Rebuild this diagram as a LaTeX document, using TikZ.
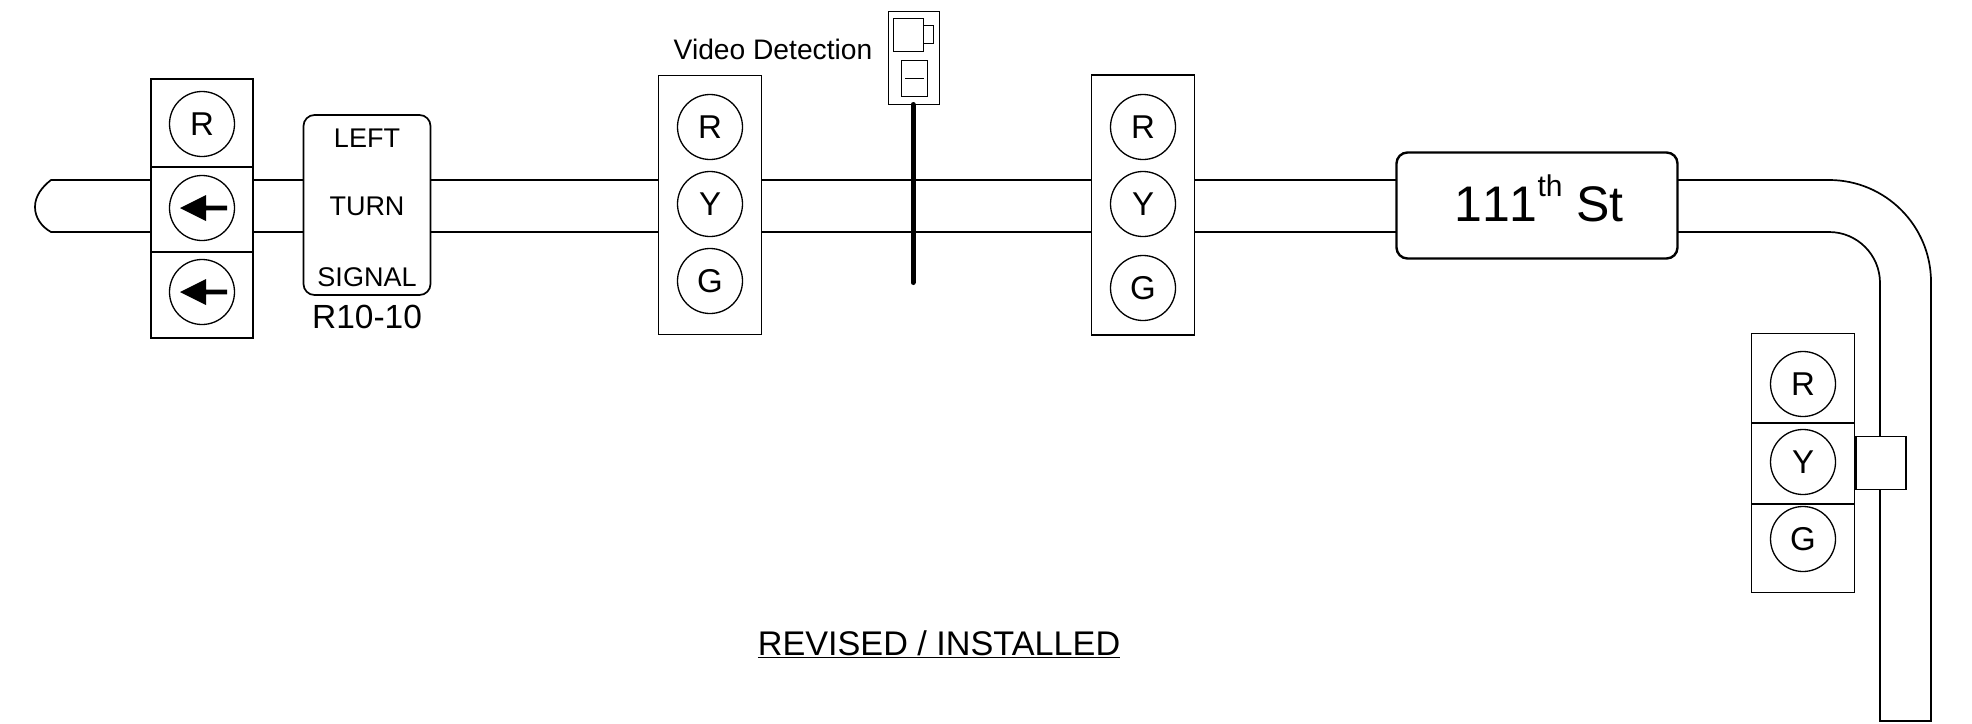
\documentclass[tikz,border=0pt]{standalone}
\usepackage{fontspec}
\setmainfont{Liberation Sans}
\newcommand{\pxfont}[1]{\fontsize{#1}{#1}\selectfont}
\tikzset{
  x=1pt,y=-1pt,
  ln/.style={line width=1.7pt,black},
  hd/.style={ln,draw,fill=white,rectangle,inner sep=0pt,outer sep=0pt},
  lamp/.style={line width=1.3pt,draw,fill=white,circle,inner sep=0pt,outer sep=0pt,minimum size=65pt,font=\pxfont{33}},
  sigbox/.style={hd,rounded corners=11pt},
  lbl/.style={inner sep=0pt,outer sep=0pt,anchor=base},
  fine/.style={line width=0.8pt,black},
}
\begin{document}
\begin{tikzpicture}
\useasboundingbox (0,0) rectangle (1972,723);
% mast arm
\coordinate (armEnd) at (35,207);
\coordinate (tA) at (51,180);
\coordinate (bA) at (51,232);
\coordinate (cT) at (1829,180);
\coordinate (cB) at (1829,232);
\coordinate (poleO) at (1931,721);
\coordinate (poleI) at (1880,721);
\node[hd,minimum width=102pt,minimum height=259pt] (headA) at (202,208.5) {};
\node[sigbox,minimum width=127pt,minimum height=180pt] (sign) at (367,205) {};
\node[hd,minimum width=103pt,minimum height=259pt] (headB) at (710,205) {};
\node[hd,minimum width=103pt,minimum height=260pt] (headC) at (1143,205) {};
\node[sigbox,line width=2.4pt,minimum width=281pt,minimum height=106pt] (street) at (1537,205.5) {};
\draw[ln] (headA.west |- tA) -- (tA) .. controls (42,187) and (35,196) .. (armEnd) .. controls (35,218) and (42,227) .. (bA) -- (headA.west |- bA);
\draw[ln] (headA.east |- tA) -- (sign.west |- tA);
\draw[ln] (headA.east |- bA) -- (sign.west |- bA);
\draw[ln] (sign.east |- tA) -- (headB.west |- tA);
\draw[ln] (sign.east |- bA) -- (headB.west |- bA);
\draw[ln] (headB.east |- tA) -- (headC.west |- tA);
\draw[ln] (headB.east |- bA) -- (headC.west |- bA);
\draw[ln] (headC.east |- tA) -- (street.west |- tA);
\draw[ln] (headC.east |- bA) -- (street.west |- bA);
\draw[ln] (street.east |- cT) -- (cT) arc[start angle=-90,end angle=0,radius=102] -- (poleO) -- (poleI) -- (1880,283) arc[start angle=0,end angle=-90,radius=51] -- (street.east |- cB);
% head A
\draw[ln] (headA.west |- 0,167) -- (headA.east |- 0,167);
\draw[ln] (headA.west |- 0,252) -- (headA.east |- 0,252);
\node[lamp] (a1) at (202,124) {R};
\node[lamp] (a2) at (202,208) {};
\node[lamp] (a3) at (202,292) {};
\foreach \c in {a2,a3}{
  \fill[black] ([xshift=-22pt]\c.center) -- ([xshift=4pt,yshift=-13pt]\c.center) -- ([xshift=4pt,yshift=-2.4pt]\c.center) -- ([xshift=25pt,yshift=-2.4pt]\c.center) -- ([xshift=25pt,yshift=2.4pt]\c.center) -- ([xshift=4pt,yshift=2.4pt]\c.center) -- ([xshift=4pt,yshift=13pt]\c.center) -- cycle;
}
% sign
\node[lbl,font=\pxfont{27}] (s1) at (367,147) {LEFT};
\node[lbl,font=\pxfont{27}] (s2) at (367,215) {TURN};
\node[lbl,font=\pxfont{27}] (s3) at (367,286) {SIGNAL};
\node[lbl,font=\pxfont{33.5}] (code) at (367,328) {R10-10};
% video detection
\node[lbl,font=\pxfont{28.2}] (vd) at (773,59) {Video Detection};
\node[fine,draw,fill=white,rectangle,inner sep=0pt,outer sep=0pt,minimum width=51pt,minimum height=93pt] (cam) at (914,58) {};
\draw[line width=5pt,line cap=round] ([xshift=-1pt]cam.south) -- ++(0,178) coordinate (poleEnd);
\draw[fine] (893,18) rectangle (923,51);
\draw[fine] (923,25) rectangle (933,43);
\draw[fine] (901,60) rectangle (927,96);
\draw[fine] (905,78) -- (924,78);
% head B
\node[lamp] (b1) at (710,127) {R};
\node[lamp] (b2) at (710,204) {Y};
\node[lamp] (b3) at (710,281) {G};
% head C
\node[lamp] (c1) at (1143,127) {R};
\node[lamp] (c2) at (1143,204) {Y};
\node[lamp] (c3) at (1143,288) {G};
% street sign
\node[inner sep=0pt,font=\pxfont{50}\addfontfeature{Kerning=Off}] (st) at (1539,198) {111\raisebox{25pt}{\pxfont{30}th} St};
% side head
\node[hd,minimum width=50pt,minimum height=53pt] (brk) at (1881,463) {};
\node[hd,minimum width=103pt,minimum height=259pt] (headD) at (1803,463) {};
\draw[ln] (headD.west |- 0,423) -- (headD.east |- 0,423);
\draw[ln] (headD.west |- 0,504) -- (headD.east |- 0,504);
\node[lamp] (d1) at (1803,384) {R};
\node[lamp] (d2) at (1803,462) {Y};
\node[lamp] (d3) at (1803,539) {G};
% caption
\node[lbl,font=\pxfont{34.2}] (cap) at (939,655) {\underline{REVISED / INSTALLED}};
\end{tikzpicture}
\end{document}
